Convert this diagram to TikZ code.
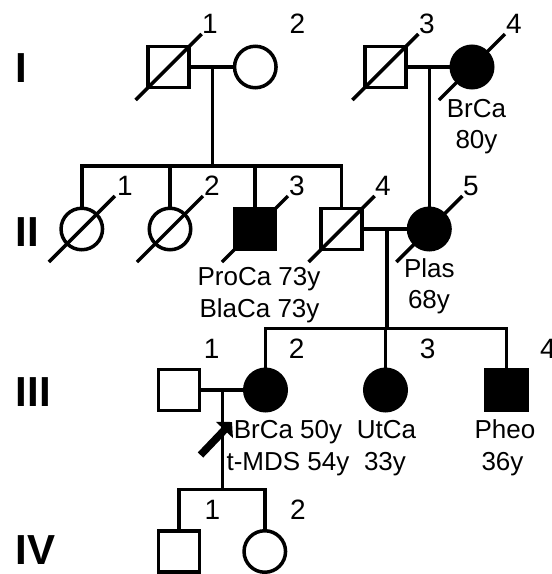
\documentclass[tikz,border=0pt]{standalone}
\usepackage{fontspec}
\setmainfont{Liberation Sans}
\usetikzlibrary{arrows.meta}
\begin{document}
\begin{tikzpicture}[x=1pt,y=-1pt, line width=3.5pt,
 male/.style={draw, rectangle, minimum size=41pt, inner sep=0},
 female/.style={draw, circle, minimum size=41.5pt, inner sep=0},
 aff/.style={fill=black},
 lbl/.style={font=\fontsize{26}{30}\selectfont, inner sep=0, anchor=base},
 num/.style={font=\fontsize{28}{32}\selectfont, inner sep=0, anchor=base},
 gen/.style={font=\fontsize{42}{46}\selectfont\bfseries, inner sep=0, anchor=base west},
 dec/.style={line width=3.5pt}]
\useasboundingbox (0,0) rectangle (552,574);

% Generation I
\node[male] (I1) at (168.7,67) {};
\node[female] (I2) at (255.3,67) {};
\node[male] (I3) at (385.3,67) {};
\node[female,aff] (I4) at (472,67) {};

% Generation II
\node[female] (II1) at (81.8,229) {};
\node[female] (II2) at (170,229) {};
\node[male,aff] (II3) at (255,229) {};
\node[male] (II4) at (341.7,229) {};
\node[female,aff] (II5) at (429.3,229) {};

% Generation III
\node[male] (III1) at (178.8,390) {};
\node[female,aff] (III2) at (265.5,390) {};
\node[female,aff] (III3) at (385.5,390) {};
\node[male,aff] (III4) at (506.3,390) {};

% Generation IV
\node[male] (IV1) at (179,551.5) {};
\node[female] (IV2) at (264.8,551.5) {};

% deceased slashes
\foreach \n in {I1,I3,I4,II1,II2,II3,II4,II5}{
  \draw[dec] ([shift={(-33,33)}]\n.center) -- ([shift={(33,-33)}]\n.center);
}

% connectors
\draw (I1.east) -- (I2.west);
\coordinate (c12) at (212.7,67);
\coordinate (s2) at (212.7,166);
\draw (c12) -- (s2);
\draw (II1.north) |- (s2) -| (II4.north);
\draw (II2.north) -- (II2.north |- s2);
\draw (II3.north) -- (II3.north |- s2);

\draw (I3.east) -- (I4.west);
\draw (II5.north |- I3.east) -- (II5.north);

\draw (II4.east) -- (II5.west);
\coordinate (c45) at (387,229);
\coordinate (s3) at (387,328.3);
\draw (c45) -- (s3);
\draw (III2.north) |- (s3) -| (III4.north);
\draw (III3.north) -- (III3.north |- s3);

\draw (III1.east) -- (III2.west);
\coordinate (c3) at (222.5,390);
\coordinate (s4) at (222.5,489.3);
\draw (c3) -- (s4);
\draw (IV1.north) |- (s4) -| (IV2.north);

% proband arrow
\coordinate (arrT) at (200.5,455);
\coordinate (arrH) at (232,422);
\draw[line width=7.5pt, -{Triangle[length=11pt,width=23pt]}] (arrT) -- (arrH);

% generation labels
\node[gen] (gI) at (14,82.3) {I};
\node[gen] (gII) at (14,246.7) {II};
\node[gen] (gIII) at (14,406) {III};
\node[gen] (gIV) at (14,564) {IV};

% individual numbers
\node[num] (nI1) at (210,33.5) {1};
\node[num] (nI2) at (297.5,33.5) {2};
\node[num] (nI3) at (427,33.5) {3};
\node[num] (nI4) at (514,33.5) {4};

\node[num] (nII1) at (125,195.5) {1};
\node[num] (nII2) at (212,195.5) {2};
\node[num] (nII3) at (297,195.5) {3};
\node[num] (nII4) at (383,195.5) {4};
\node[num] (nII5) at (471,195.5) {5};

\node[num] (nIII1) at (211.7,358) {1};
\node[num] (nIII2) at (296.7,358) {2};
\node[num] (nIII3) at (427.7,358) {3};
\node[num] (nIII4) at (548,358) {4};

\node[num] (nIV1) at (212.3,519.5) {1};
\node[num] (nIV2) at (298,519.5) {2};

% phenotype labels
\node[lbl] (tI4a) at (476.5,117) {BrCa};
\node[lbl] (tI4b) at (476.5,148.5) {80y};
\node[lbl] (tII3a) at (259,285) {ProCa 73y};
\node[lbl] (tII3b) at (259.5,317) {BlaCa 73y};
\node[lbl] (tII5a) at (429.3,277.3) {Plas};
\node[lbl] (tII5b) at (429,308.3) {68y};
\node[lbl] (tIII2a) at (288,438.3) {BrCa 50y};
\node[lbl] (tIII2b) at (288,470) {t-MDS 54y};
\node[lbl] (tIII3a) at (386.5,438.3) {UtCa};
\node[lbl] (tIII3b) at (385,470) {33y};
\node[lbl] (tIII4a) at (505,438.3) {Pheo};
\node[lbl] (tIII4b) at (502.5,470) {36y};
\end{tikzpicture}
\end{document}
